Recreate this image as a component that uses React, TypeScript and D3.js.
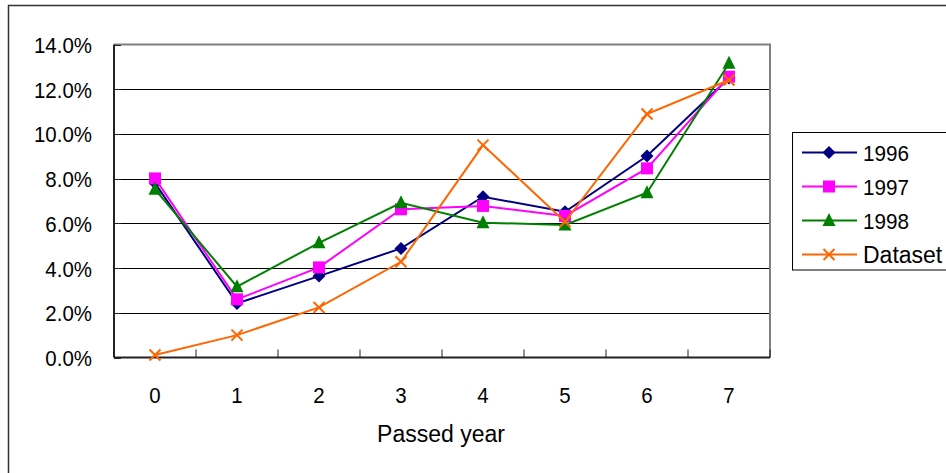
import React from "react";
import * as d3 from "d3";

const categories = ["0", "1", "2", "3", "4", "5", "6", "7"];
const yTicks = [0, 0.02, 0.04, 0.06, 0.08, 0.1, 0.12, 0.14];
const s1996 = [0.078, 0.0242, 0.0364, 0.0488, 0.0719, 0.0652, 0.0901, 0.125];
const s1997 = [0.0801, 0.026, 0.0403, 0.0663, 0.0678, 0.0633, 0.0846, 0.1256];
const s1998 = [0.0752, 0.0317, 0.0513, 0.0692, 0.0603, 0.0593, 0.0737, 0.1316];
const sData = [0.0011, 0.01, 0.0224, 0.0428, 0.095, 0.0607, 0.1089, 0.1241];
const seriesNames = ["1996", "1997", "1998", "Dataset"];
const seriesColors = ["#000080", "#FF00FF", "#008000", "#FF6600"];
const seriesShapes = ["diamond", "square", "triangle", "x"];

const FONT = "'Liberation Sans', Arial, sans-serif";

const CW: Record<string, number> = { ".": 0.278, "%": 0.889 };
function numWidth(s: string, fs: number, k: number) {
  let w = 0;
  for (const ch of s) w += CW[ch] ?? 0.556;
  return w * fs * k;
}

function Marker({ shape, x, y, color }: { shape: string; x: number; y: number; color: string }) {
  if (shape === "diamond") {
    const s = 6.5;
    return <path d={`M${x},${y - s}L${x + s},${y}L${x},${y + s}L${x - s},${y}Z`} fill={color} />;
  }
  if (shape === "square") {
    const s = 6;
    return <rect x={x - s} y={y - s} width={2 * s} height={2 * s} fill={color} />;
  }
  if (shape === "triangle") {
    const s = 6.5;
    return <path d={`M${x},${y - s - 1}L${x + s},${y + s - 1}L${x - s},${y + s - 1}Z`} fill={color} />;
  }
  const s = 5.5;
  return (
    <path
      d={`M${x - s},${y - s}L${x + s},${y + s}M${x - s},${y + s}L${x + s},${y - s}`}
      stroke={color}
      strokeWidth={2}
      fill="none"
    />
  );
}

export default function App() {
  const W = 946;
  const H = 473;
  const left = 114;
  const right = 770;
  const top = 44.5;
  const bottom = 357.5;

  const x = d3.scaleBand<string>().domain(categories).range([left, right]).padding(0);
  const y = d3.scaleLinear().domain([0, 0.14]).range([bottom, top]);
  const fmt = d3.format(".1%");
  const cx = (c: string) => (x(c) as number) + x.bandwidth() / 2;

  const allSeries = [s1996, s1997, s1998, sData];
  const line = d3
    .line<number>()
    .x((_, i) => cx(categories[i]))
    .y((d) => y(d));

  const legendY = [152.5, 186.5, 220.5, 254.5];

  return (
    <div style={{ position: "fixed", left: 0, top: 0 }}>
      <svg width={W} height={H} style={{ display: "block", background: "#fff" }}>
        <rect x={0} y={0} width={W} height={H} fill="#fff" />
        {/* outer chart border */}
        <rect x={8.5} y={5.5} width={W + 20} height={H + 20} fill="none" stroke="#333" strokeWidth={1.5} />

        {/* gridlines */}
        {yTicks.slice(1, -1).map((t) => (
          <line key={t} x1={left} x2={right} y1={Math.round(y(t)) + 0.5} y2={Math.round(y(t)) + 0.5} stroke="#000" strokeWidth={1} />
        ))}
        {/* plot border top/right */}
        <path d={`M${left},${top}H${right}V${bottom}`} fill="none" stroke="#808080" strokeWidth={2} />

        {/* axes */}
        <line x1={left} x2={left} y1={top} y2={bottom} stroke="#222" strokeWidth={2} />
        <line x1={left} x2={right} y1={bottom} y2={bottom} stroke="#222" strokeWidth={2} />
        {yTicks.map((t) => (
          <line key={"yt" + t} x1={left} x2={left + 7} y1={Math.round(y(t)) + 0.5} y2={Math.round(y(t)) + 0.5} stroke="#222" strokeWidth={1} />
        ))}
        {categories.map((c) => (
          <line key={"xt" + c} x1={(x(c) as number) + x.bandwidth()} x2={(x(c) as number) + x.bandwidth()} y1={bottom} y2={bottom - 8} stroke="#222" strokeWidth={1} />
        ))}

        {/* y labels */}
        {yTicks.map((t) => (
          <text
            key={"yl" + t}
            x={92 - numWidth(fmt(t), 22, 0.93)}
            y={y(t) + 8.5}
            fontFamily={FONT}
            fontSize={22}
            fill="#000"
            textLength={numWidth(fmt(t), 22, 0.93)}
            lengthAdjust="spacingAndGlyphs"
          >
            {fmt(t)}
          </text>
        ))}
        {/* x labels */}
        {categories.map((c) => (
          <text
            key={"xl" + c}
            x={cx(c) - numWidth(c, 22, 0.93) / 2}
            y={402.5}
            fontFamily={FONT}
            fontSize={22}
            fill="#000"
            textLength={numWidth(c, 22, 0.93)}
            lengthAdjust="spacingAndGlyphs"
          >
            {c}
          </text>
        ))}
        <text x={441} y={442} textAnchor="middle" fontFamily={FONT} fontSize={23} fill="#000">
          Passed year
        </text>

        {/* series */}
        {allSeries.map((s, si) => (
          <g key={seriesNames[si]}>
            <path d={line(s) as string} fill="none" stroke={seriesColors[si]} strokeWidth={2} />
            {s.map((v, i) => (
              <Marker key={i} shape={seriesShapes[si]} x={cx(categories[i])} y={y(v)} color={seriesColors[si]} />
            ))}
          </g>
        ))}

        {/* legend */}
        <rect x={792.5} y={132.5} width={200} height={137.5} fill="#fff" stroke="#000" strokeWidth={1} />
        {seriesNames.map((n, i) => (
          <g key={"lg" + n}>
            <line x1={802} x2={857} y1={legendY[i]} y2={legendY[i]} stroke={seriesColors[i]} strokeWidth={2} />
            <Marker shape={seriesShapes[i]} x={829} y={legendY[i]} color={seriesColors[i]} />
            {n === "Dataset" ? (
              <text x={863} y={legendY[i] + 8.5} fontFamily={FONT} fontSize={23} fill="#000">
                {n}
              </text>
            ) : (
              <text
                x={863}
                y={legendY[i] + 8.5}
                fontFamily={FONT}
                fontSize={22}
                fill="#000"
                textLength={numWidth(n, 22, 0.94)}
                lengthAdjust="spacingAndGlyphs"
              >
                {n}
              </text>
            )}
          </g>
        ))}
      </svg>
    </div>
  );
}
